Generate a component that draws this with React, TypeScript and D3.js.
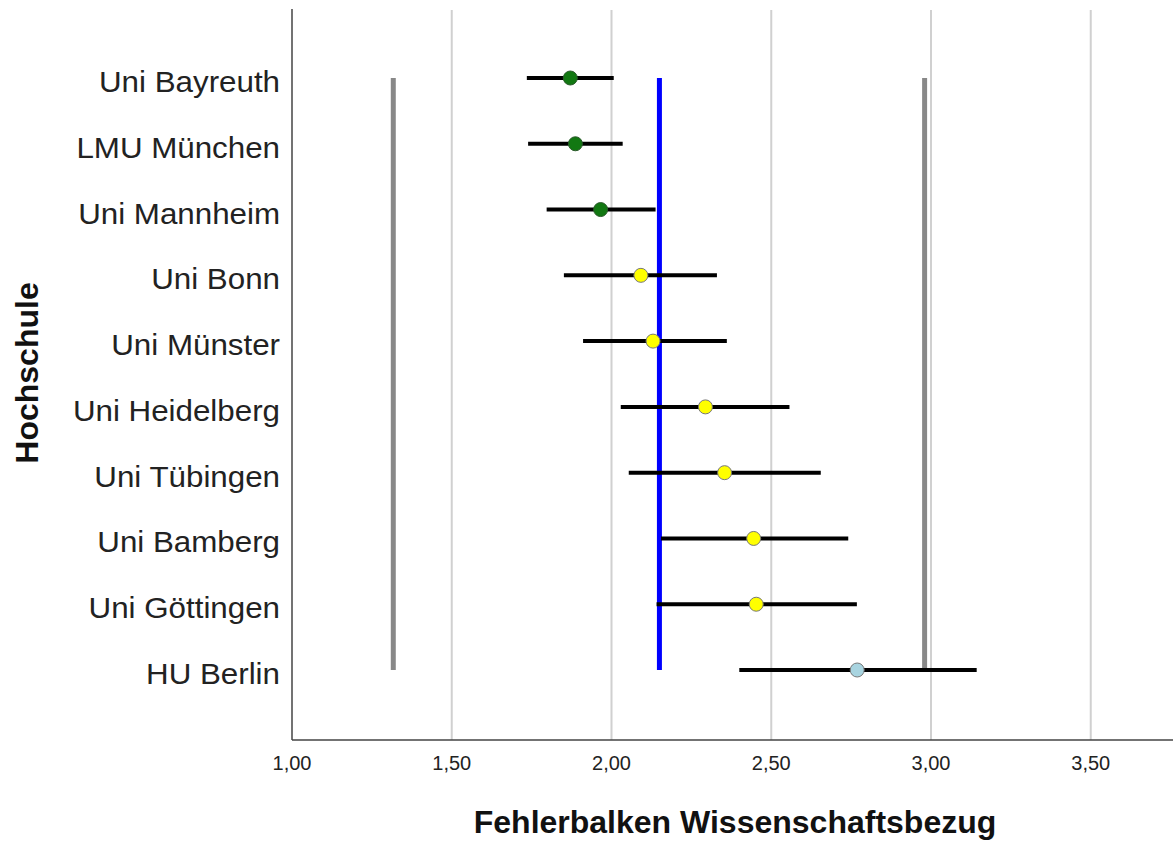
import React from 'react'
import { scaleLinear, scalePoint } from 'd3'

const schools = [
  'Uni Bayreuth',
  'LMU München',
  'Uni Mannheim',
  'Uni Bonn',
  'Uni Münster',
  'Uni Heidelberg',
  'Uni Tübingen',
  'Uni Bamberg',
  'Uni Göttingen',
  'HU Berlin'
]
const means = [1.871, 1.887, 1.966, 2.092, 2.13, 2.294, 2.354, 2.445, 2.453, 2.769]
const lower = [1.735, 1.739, 1.797, 1.851, 1.911, 2.029, 2.054, 2.155, 2.141, 2.4]
const upper = [2.007, 2.035, 2.138, 2.33, 2.361, 2.557, 2.655, 2.741, 2.768, 3.143]
const groups = ['green', 'green', 'green', 'yellow', 'yellow', 'yellow', 'yellow', 'yellow', 'yellow', 'blue']
const xTicks = [1.0, 1.5, 2.0, 2.5, 3.0, 3.5]
const refLow = 1.317
const refHigh = 2.98
const refMean = 2.15

const WIDTH = 1173
const HEIGHT = 846
const M = { left: 292, right: 0, top: 9, bottom: 106 }

const FILL: Record<string, string> = { green: '#127812', yellow: '#ffff00', blue: '#a8d4e0' }

export default function App() {
  const x = scaleLinear()
    .domain([1, 1 + (WIDTH - M.left) / 319.5])
    .range([M.left, WIDTH])
  const y = scalePoint<string>()
    .domain(schools)
    .range([78, 670])
  const axisY = HEIGHT - M.bottom
  const yTop = y(schools[0])!
  const yBot = y(schools[schools.length - 1])!
  const fmt = (v: number) => v.toFixed(2).replace('.', ',')

  return (
    <svg
      width={WIDTH}
      height={HEIGHT}
      style={{ position: 'absolute', left: 0, top: 0, fontFamily: "'Liberation Sans', Arial, sans-serif" }}
    >
      <rect width={WIDTH} height={HEIGHT} fill="#fff" />
      <g className="grid">
        {xTicks.slice(1).map((t) => (
          <line key={t} x1={x(t)} x2={x(t)} y1={10} y2={axisY} stroke="#d0d0d0" strokeWidth={2} />
        ))}
      </g>
      <g className="axis">
        <line x1={M.left} x2={M.left} y1={M.top} y2={axisY} stroke="#444" strokeWidth={1.5} />
        <line x1={M.left} x2={WIDTH} y1={axisY} y2={axisY} stroke="#444" strokeWidth={1.5} />
        {xTicks.map((t) => (
          <text key={t} x={x(t)} y={axisY + 30} textAnchor="middle" fontSize={20} fill="#222">
            {fmt(t)}
          </text>
        ))}
        {schools.map((s) => (
          <text
            key={s}
            transform={`translate(280, ${y(s)! + 14}) scale(1.08, 1)`}
            textAnchor="end"
            fontSize={29}
            fill="#222"
          >
            {s}
          </text>
        ))}
      </g>
      <g className="refs">
        <line x1={x(refLow)} x2={x(refLow)} y1={yTop} y2={yBot} stroke="#888" strokeWidth={5} />
        <line x1={x(refHigh)} x2={x(refHigh)} y1={yTop} y2={yBot} stroke="#888" strokeWidth={5} />
        <line x1={x(refMean)} x2={x(refMean)} y1={yTop} y2={yBot} stroke="#0000ff" strokeWidth={5} />
      </g>
      <g className="bars">
        {schools.map((s, i) => (
          <g key={s}>
            <line x1={x(lower[i])} x2={x(upper[i])} y1={y(s)} y2={y(s)} stroke="#000" strokeWidth={4} />
            <circle
              cx={x(means[i])}
              cy={y(s)}
              r={7}
              fill={FILL[groups[i]]}
              stroke={groups[i] === 'green' ? '#2a5a2a' : '#777'}
              strokeWidth={1}
            />
          </g>
        ))}
      </g>
      <text x={735} y={833} textAnchor="middle" fontSize={32} fontWeight="bold" fill="#111">
        Fehlerbalken Wissenschaftsbezug
      </text>
      <text
        transform={`translate(38, 373) rotate(-90)`}
        textAnchor="middle"
        fontSize={32}
        fontWeight="bold"
        fill="#111"
      >
        Hochschule
      </text>
    </svg>
  )
}
